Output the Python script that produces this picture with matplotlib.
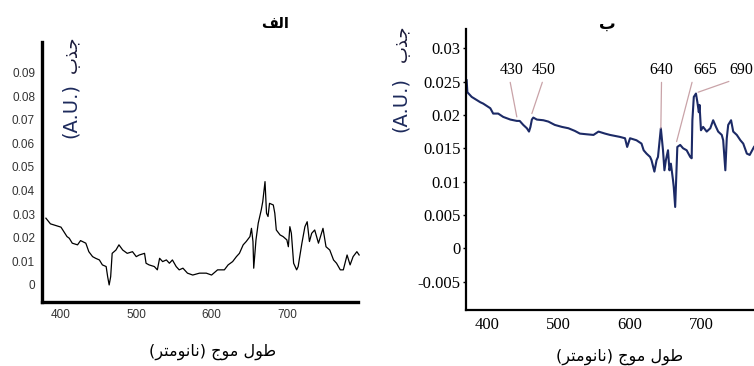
import numpy as np
import matplotlib
matplotlib.use("Agg")
import matplotlib.pyplot as plt
from matplotlib.ticker import FixedLocator

# ---------------------------------------------------------------------------
# Data (wavelength nm, absorbance A.U.)
# ---------------------------------------------------------------------------
LEFT_NM = [380, 386, 400, 408, 411, 415, 422, 426, 433, 437, 442, 446, 451,
           455, 460, 462, 464, 466, 468, 473, 477, 482, 488, 495, 500, 504,
           511, 513, 517, 524, 528, 531, 535, 540, 544, 548, 553, 557, 562,
           568, 575, 584, 593, 600, 608, 617, 622, 628, 633, 637, 642, 646,
           651, 653, 655, 656, 659, 662, 666, 668, 671, 673, 675, 677, 682,
           684, 686, 691, 695, 700, 702, 704, 706, 709, 713, 715, 720, 724,
           727, 730, 733, 737, 742, 748, 752, 757, 762, 766, 771, 775, 780,
           784, 788, 793, 796]
LEFT_ABS = [0.0283, 0.0259, 0.0245, 0.0205, 0.0198, 0.0177, 0.0170, 0.0188,
            0.0177, 0.0141, 0.0120, 0.0113, 0.0106, 0.0085, 0.0078, 0.0035,
            0.0000, 0.0035, 0.0134, 0.0148, 0.0170, 0.0148, 0.0134, 0.0141,
            0.0120, 0.0127, 0.0134, 0.0092, 0.0085, 0.0078, 0.0064, 0.0113,
            0.0099, 0.0106, 0.0092, 0.0106, 0.0078, 0.0064, 0.0071, 0.0050,
            0.0042, 0.0050, 0.0050, 0.0042, 0.0064, 0.0064, 0.0085, 0.0099,
            0.0120, 0.0134, 0.0170, 0.0184, 0.0205, 0.0240, 0.0184, 0.0071,
            0.0191, 0.0262, 0.0318, 0.0353, 0.0438, 0.0304, 0.0290, 0.0346,
            0.0339, 0.0304, 0.0233, 0.0212, 0.0205, 0.0191, 0.0162, 0.0247,
            0.0219, 0.0092, 0.0064, 0.0078, 0.0177, 0.0247, 0.0268, 0.0184,
            0.0219, 0.0233, 0.0177, 0.0240, 0.0162, 0.0148, 0.0106, 0.0092,
            0.0064, 0.0064, 0.0127, 0.0085, 0.0120, 0.0141, 0.0127]

RIGHT_NM = [372, 373, 379, 391, 395, 405, 409, 416, 423, 433, 442, 446, 451,
            456, 459, 461, 463, 465, 470, 479, 486, 495, 505, 514, 523, 530,
            539, 549, 556, 565, 572, 586, 593, 596, 600, 609, 616, 619, 623,
            628, 630, 634, 637, 639, 643, 646, 648, 650, 653, 655, 657, 660,
            661, 663, 664, 666, 670, 674, 679, 684, 686, 687, 689, 692, 694,
            696, 697, 699, 702, 707, 712, 716, 720, 723, 728, 730, 733, 735,
            737, 741, 744, 749, 754, 758, 763, 767, 773]
RIGHT_ABS = [0.0252, 0.0234, 0.0227, 0.0219, 0.0217, 0.0210, 0.0202, 0.0202,
             0.0197, 0.0193, 0.0191, 0.0191, 0.0185, 0.0180, 0.0175, 0.0182,
             0.0193, 0.0196, 0.0193, 0.0192, 0.0190, 0.0185, 0.0182, 0.0180,
             0.0176, 0.0172, 0.0171, 0.0170, 0.0175, 0.0172, 0.0170, 0.0167,
             0.0165, 0.0152, 0.0165, 0.0162, 0.0157, 0.0147, 0.0142, 0.0137,
             0.0132, 0.0115, 0.0132, 0.0137, 0.0180, 0.0147, 0.0117, 0.0132,
             0.0147, 0.0117, 0.0127, 0.0102, 0.0092, 0.0062, 0.0092, 0.0152,
             0.0155, 0.0150, 0.0147, 0.0137, 0.0135, 0.0192, 0.0227, 0.0232,
             0.0219, 0.0204, 0.0215, 0.0177, 0.0182, 0.0175, 0.0180, 0.0192,
             0.0182, 0.0175, 0.0170, 0.0162, 0.0117, 0.0165, 0.0185, 0.0192,
             0.0175, 0.0170, 0.0162, 0.0157, 0.0142, 0.0140, 0.0152]

# peak annotations on panel b
PEAK_LABELS = ["430", "450", "640", "665", "690"]
PEAK_TIP_NM = [442, 463, 643, 665, 695]
PEAK_TIP_ABS = [0.0197, 0.0202, 0.0180, 0.0160, 0.0234]

LEFT_YTICKS = [0, 0.01, 0.02, 0.03, 0.04, 0.05, 0.06, 0.07, 0.08, 0.09]
LEFT_YTICKLABELS = ["0", "0.01", "0.02", "0.03", "0.04", "0.05", "0.06",
                    "0.07", "0.08", "0.09"]
RIGHT_YTICKS = [-0.005, 0, 0.005, 0.01, 0.015, 0.02, 0.025, 0.03]
RIGHT_YTICKLABELS = ["-0.005", "0", "0.005", "0.01", "0.015", "0.02",
                     "0.025", "0.03"]
XTICKS = [400, 500, 600, 700]

TITLE_A = "الف"
TITLE_B = "ب"
YLABEL_AR = "جذب"
YLABEL_UNIT = "(A.U.)"
XLABEL = "طول موج (نانومتر)"

# ---------------------------------------------------------------------------
# minimal Arabic shaping (matplotlib has no bidi / joining support)
# ---------------------------------------------------------------------------
FORMS = {  # isolated, final, initial, medial
    "ا": ("\uFE8D", "\uFE8E", None, None),
    "ب": ("\uFE8F", "\uFE90", "\uFE91", "\uFE92"),
    "ت": ("\uFE95", "\uFE96", "\uFE97", "\uFE98"),
    "ج": ("\uFE9D", "\uFE9E", "\uFE9F", "\uFEA0"),
    "ذ": ("\uFEAB", "\uFEAC", None, None),
    "ر": ("\uFEAD", "\uFEAE", None, None),
    "ط": ("\uFEC1", "\uFEC2", "\uFEC3", "\uFEC4"),
    "ف": ("\uFED1", "\uFED2", "\uFED3", "\uFED4"),
    "ل": ("\uFEDD", "\uFEDE", "\uFEDF", "\uFEE0"),
    "م": ("\uFEE1", "\uFEE2", "\uFEE3", "\uFEE4"),
    "ن": ("\uFEE5", "\uFEE6", "\uFEE7", "\uFEE8"),
    "و": ("\uFEED", "\uFEEE", None, None),
}


def shape(text):
    out = []
    for i, ch in enumerate(text):
        if ch not in FORMS:
            out.append(ch)
            continue
        prev = text[i - 1] if i > 0 else ""
        nxt = text[i + 1] if i + 1 < len(text) else ""
        jp = prev in FORMS and FORMS[prev][2] is not None
        jn = nxt in FORMS and FORMS[ch][2] is not None
        iso, fin, ini, med = FORMS[ch]
        out.append(med if jp and jn else fin if jp else ini if jn else iso)
    return "".join(reversed(out)).translate(str.maketrans("()", ")("))


AR = ["DejaVu Sans"]
W, H = 754, 366

fig = plt.figure(figsize=(W / 100, H / 100), dpi=100)
fig.patch.set_facecolor("white")


def fx(px):
    return px / W


def fy(py):
    return 1 - py / H


# ---------------------------------------------------------------------------
# Panel a (left)
# ---------------------------------------------------------------------------
ax1 = fig.add_axes([fx(42), fy(301.7), fx(358 - 42), (301.7 - 41.7) / H])
ax1.plot(LEFT_NM, LEFT_ABS, color="black", lw=0.9, clip_on=False)
ax1.set_xlim(374.8, 794.5)
ax1.set_ylim(-0.0071, 0.1031)
for s in ["top", "right"]:
    ax1.spines[s].set_visible(False)
for s in ["left", "bottom"]:
    ax1.spines[s].set_linewidth(2.4)
ax1.xaxis.set_major_locator(FixedLocator(XTICKS))
ax1.yaxis.set_major_locator(FixedLocator(LEFT_YTICKS))
ax1.set_yticklabels(LEFT_YTICKLABELS)
ax1.tick_params(length=0, pad=5, labelsize=8.5, labelcolor="#333333")
for lab in ax1.get_xticklabels() + ax1.get_yticklabels():
    lab.set_family("Liberation Sans")

fig.text(fx(275), fy(23), shape(TITLE_A), family=AR, fontsize=10.5,
         fontweight="bold", ha="center", va="center")
fig.text(fx(213), fy(352), shape(XLABEL), family=AR, fontsize=11.5,
         ha="center", va="center")
fig.text(fx(70), fy(111), YLABEL_UNIT, family=AR, fontsize=14,
         color="#1d2a5c", rotation=90, ha="center", va="center")
fig.text(fx(72), fy(54), shape(YLABEL_AR), family=AR, fontsize=13,
         color="#1a1a3a", rotation=90, ha="center", va="center")

# ---------------------------------------------------------------------------
# Panel b (right)
# ---------------------------------------------------------------------------
ax2 = fig.add_axes([fx(466.3), fy(310), fx(754 - 466.3), (310 - 29.3) / H])
ax2.plot(RIGHT_NM, RIGHT_ABS, color="#1c2a66", lw=1.5)
ax2.set_xlim(371.5, 773)
ax2.set_ylim(-0.00924, 0.03283)
for s in ["top", "right"]:
    ax2.spines[s].set_visible(False)
for s in ["left", "bottom"]:
    ax2.spines[s].set_linewidth(1.6)
ax2.xaxis.set_major_locator(FixedLocator(XTICKS))
ax2.yaxis.set_major_locator(FixedLocator(RIGHT_YTICKS))
ax2.set_yticklabels(RIGHT_YTICKLABELS)
ax2.tick_params(axis="y", length=2.5, width=1, pad=1.5, labelsize=12)
ax2.tick_params(axis="x", length=0, pad=5, labelsize=12)
for lab in ax2.get_xticklabels() + ax2.get_yticklabels():
    lab.set_family("Liberation Serif")

text_nm = [435, 479.5, 644, 704.6, 755.8]
relx = [0.4, 0.5, 0.5, 0.0, 0.35]
for lab, tx, tnm, tab, rx in zip(PEAK_LABELS, text_nm, PEAK_TIP_NM,
                                 PEAK_TIP_ABS, relx):
    ax2.annotate(lab, xy=(tnm, tab), xytext=(tx, 0.0267),
                 ha="center", va="center", fontsize=11.5,
                 family="Liberation Serif", annotation_clip=False,
                 arrowprops=dict(arrowstyle="-", color="#c9a3a8", lw=0.9,
                                 relpos=(rx, 0.0), shrinkA=1, shrinkB=0))

fig.text(fx(607), fy(24), shape(TITLE_B), family=AR, fontsize=12,
         fontweight="bold", ha="center", va="center", zorder=5)
fig.text(fx(620), fy(357), shape(XLABEL), family=AR, fontsize=11.5,
         ha="center", va="center")
fig.text(fx(400), fy(105), YLABEL_UNIT, family=AR, fontsize=14,
         color="#1d2a5c", rotation=90, ha="center", va="center")
fig.text(fx(402), fy(43), shape(YLABEL_AR), family=AR, fontsize=13,
         color="#1a1a3a", rotation=90, ha="center", va="center")

fig.savefig("out.png", dpi=100, facecolor="white")
